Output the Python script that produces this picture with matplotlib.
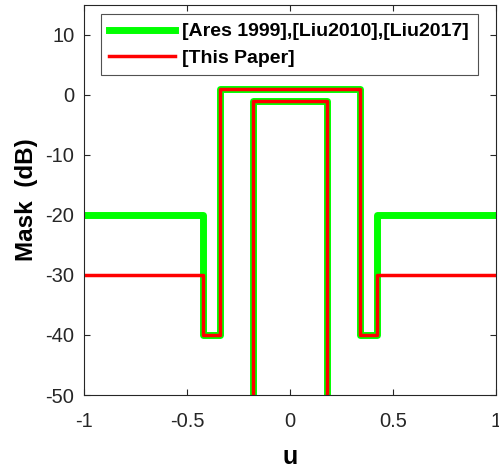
import matplotlib
matplotlib.use('Agg')
import matplotlib.pyplot as plt

# upper mask breakpoints (u) and levels (dB)
u_upper = [-1, -0.42, -0.42, -0.34, -0.34, 0.34, 0.34, 0.42, 0.42, 1]
ref_upper = [-20, -20, -40, -40, 1, 1, -40, -40, -20, -20]
paper_upper = [-30, -30, -40, -40, 1, 1, -40, -40, -30, -30]

# lower mask (main beam floor)
u_lower = [-0.18, -0.18, 0.18, 0.18]
mask_lower = [-60, -1, -1, -60]

plt.rcParams['font.family'] = ['Liberation Sans', 'DejaVu Sans']
plt.rcParams['axes.unicode_minus'] = False

fig = plt.figure(figsize=(4.99, 4.69), dpi=100)
ax = fig.add_axes([84 / 499, 74 / 469, 412 / 499, 390 / 469])

green = '#00ff00'
red = '#ff0000'
ax.plot(u_upper, ref_upper, color=green, lw=5, solid_joinstyle='round',
        label='[Ares 1999],[Liu2010],[Liu2017]')
ax.plot(u_lower, mask_lower, color=green, lw=5, solid_joinstyle='round')
ax.plot(u_upper, paper_upper, color=red, lw=2.5, solid_joinstyle='round',
        label='[This Paper]')
ax.plot(u_lower, mask_lower, color=red, lw=2.5, solid_joinstyle='round')

ax.set_xlim(-1, 1)
ax.set_ylim(-50, 15)
ax.set_xticks([-1, -0.5, 0, 0.5, 1])
ax.set_xticklabels(['-1', '-0.5', '0', '0.5', '1'])
ax.set_yticks([-50, -40, -30, -20, -10, 0, 10])
ax.tick_params(direction='in', length=4, width=0.8, colors='#262626',
               labelsize=14.5, top=True, right=True)
ax.tick_params(axis='x', pad=12)
ax.tick_params(axis='y', pad=7)
for s in ax.spines.values():
    s.set_color('#262626')
    s.set_linewidth(0.8)

ax.set_xlabel('u', fontsize=18, fontweight='bold', labelpad=10)
ax.set_ylabel('Mask  (dB)', fontsize=17.5, fontweight='bold', labelpad=5)

leg = ax.legend(loc='upper right', bbox_to_anchor=(0.956, 0.977),
                prop={'weight': 'bold', 'size': 14}, fancybox=False,
                edgecolor='#262626', handlelength=3.4, handletextpad=0.36,
                borderpad=0.45, labelspacing=0.45, borderaxespad=0)
leg.get_frame().set_linewidth(0.8)

fig.savefig('out.png', dpi=100)
